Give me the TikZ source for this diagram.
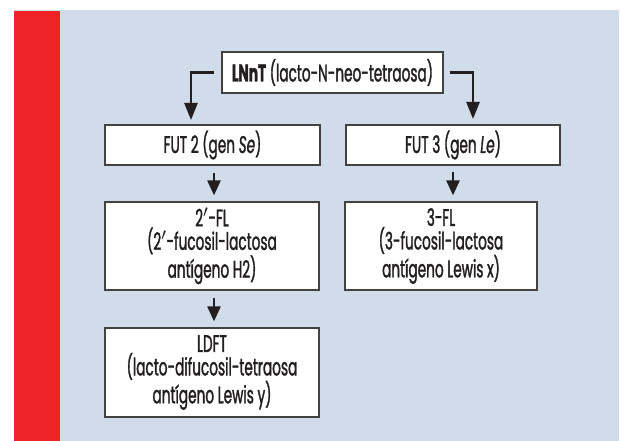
\documentclass[tikz,border=0pt]{standalone}
\usepackage{fontspec}
\setmainfont{Poppins}[FakeStretch=0.57,FakeBold=1.3]
\usetikzlibrary{arrows.meta}
\definecolor{bgblue}{HTML}{D0DCEA}
\definecolor{barred}{HTML}{EE2326}
\definecolor{ink}{HTML}{231F20}
\begin{document}
\begin{tikzpicture}[x=1pt,y=-1pt,
  box/.style={draw=ink!85, line width=1.2pt, fill=white, inner sep=0pt,
    align=center, text=ink, font=\fontsize{24}{21}\selectfont},
  conn/.style={draw=ink, line width=2.5pt, -{Triangle[length=17pt,width=13pt]}},
  sconn/.style={draw=ink, line width=2.5pt, -{Triangle[length=15pt,width=13pt]}}]
\useasboundingbox (0,0) rectangle (621,441);
\fill[white] (0,0) rectangle (621,441);
\fill[bgblue] (14,10) rectangle (619,441);
\fill[barred] (14,11) rectangle (60,441);

\node[box, minimum width=221pt, minimum height=41pt] (lnnt) at (332.5,72.5)
  {\textbf{LNnT} (lacto-N-neo-tetraosa)};
\node[box, minimum width=215pt, minimum height=40pt] (fut2) at (212.5,145)
  {FUT 2 (gen \textit{Se})};
\node[box, minimum width=214pt, minimum height=40pt] (fut3) at (453,145)
  {FUT 3 (gen \textit{Le})};
\node[box, minimum width=214pt, minimum height=88pt] (fl2) at (212,246)
  {2$'$-FL\\(2$'$-fucosil-lactosa\\antígeno H2)};
\node[box, minimum width=192pt, minimum height=88pt] (fl3) at (441,246)
  {3-FL\\(3-fucosil-lactosa\\antígeno Lewis x)};
\node[box, minimum width=214pt, minimum height=89pt] (ldft) at (212,372.5)
  {LDFT\\(lacto-difucosil-tetraosa\\antígeno Lewis y)};

\coordinate (lt) at (191,125);
\coordinate (rt) at (473,125);
\draw[conn, shorten <=7pt, shorten >=5pt] (lnnt.west) -| (lt);
\draw[conn, shorten <=6pt, shorten >=6pt] (lnnt.east) -| (rt);
\draw[sconn, shorten <=7pt, shorten >=6pt] ([xshift=1.5pt]fut2.south) -- ([xshift=2pt]fl2.north);
\draw[sconn, shorten <=6pt, shorten >=6pt] (fut3.south) -- (fut3.south |- fl3.north);
\draw[sconn, shorten <=7pt, shorten >=6pt] ([xshift=2pt]fl2.south) -- ([xshift=2pt]ldft.north);
\end{tikzpicture}
\end{document}
